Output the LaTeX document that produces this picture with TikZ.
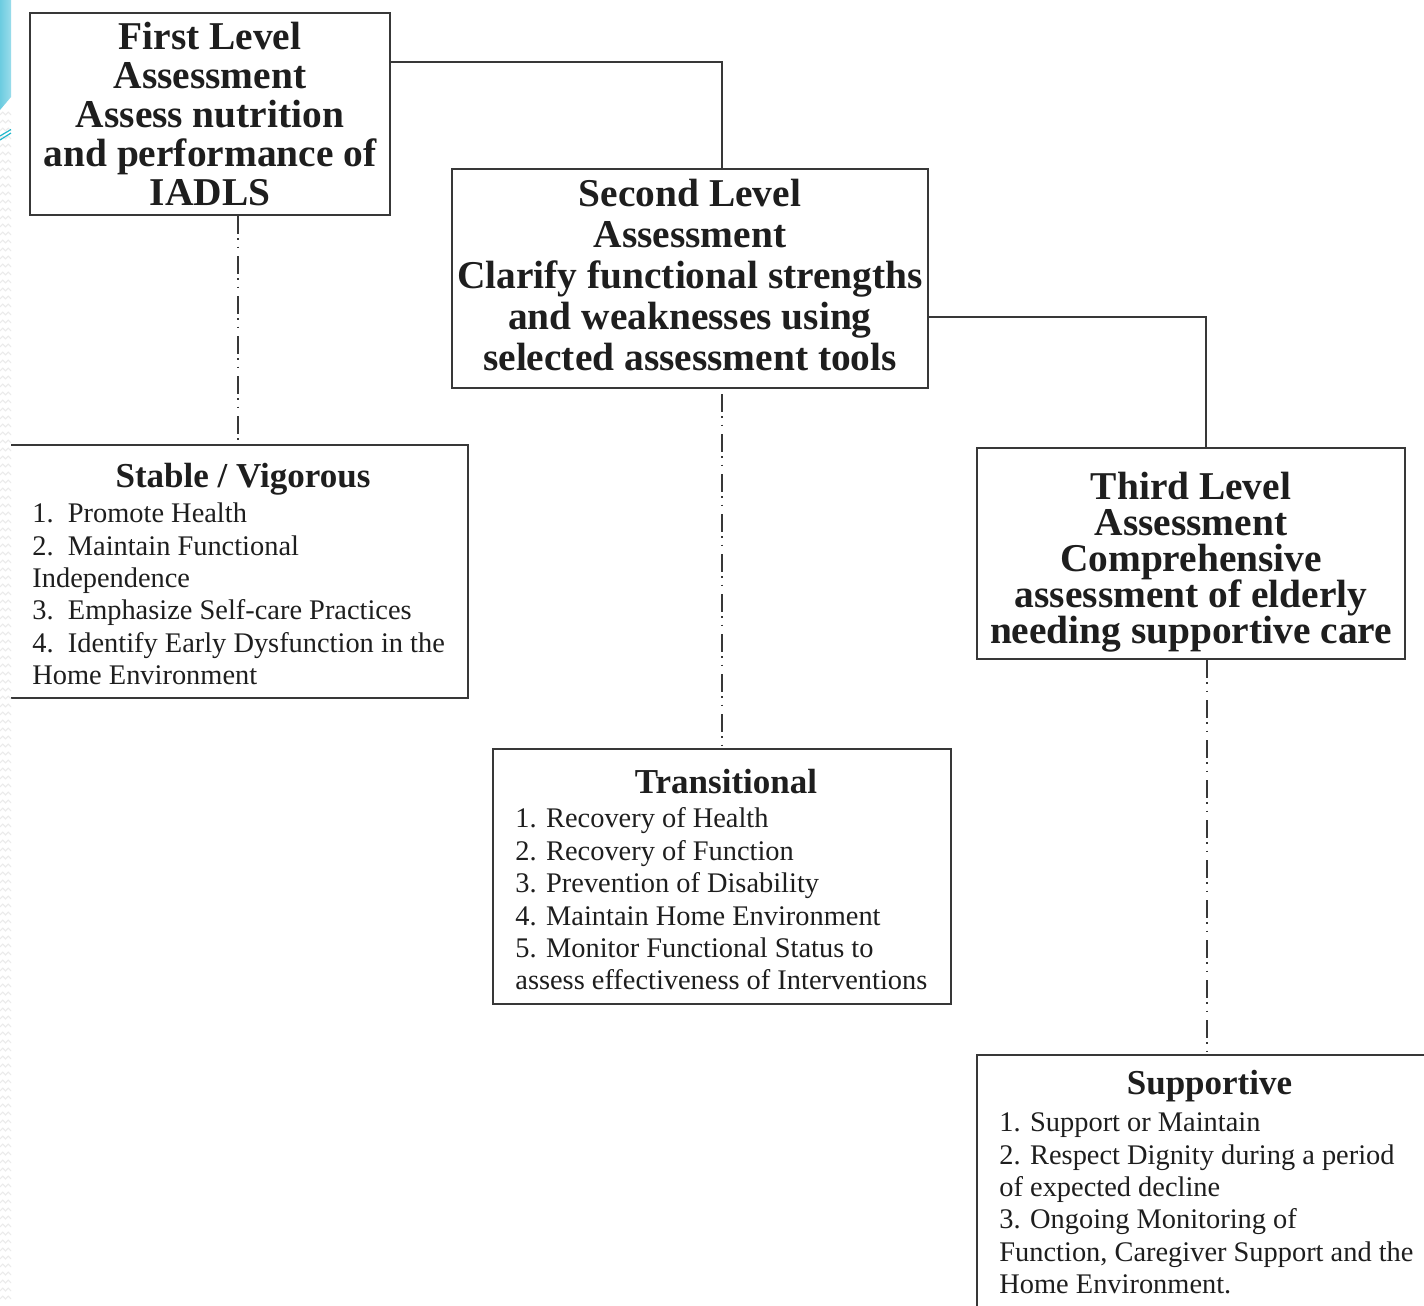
\documentclass[tikz,border=0pt]{standalone}
\usepackage{fontspec}
\setmainfont{Liberation Serif}
\usetikzlibrary{calc}
\setlength{\lineskiplimit}{-30pt}
\setlength{\lineskip}{0pt}
\definecolor{ln}{HTML}{383838}
\definecolor{txt}{HTML}{1E1E1E}
\definecolor{deco}{HTML}{6CCCE0}
\definecolor{decob}{HTML}{9ADCEB}
\definecolor{swoosh}{HTML}{22B8CC}
\definecolor{zig}{HTML}{EBEBEB}
\begin{document}
\begin{tikzpicture}[x=0.5pt,y=-0.5pt,
  box/.style={draw=ln,line width=1pt,inner sep=0pt,align=center,text=txt},
  bigfont/.style={font=\fontsize{19.7}{#1}\bfseries\selectfont},
  headtxt/.style={anchor=base,inner sep=0pt,text=txt,font=\fontsize{17.5}{20}\bfseries\selectfont},
  bodytxt/.style={anchor=north west,inner sep=0pt,align=left,text=txt,font=\fontsize{14.2}{16.2}\selectfont},
  solidlink/.style={draw=ln,line width=1pt},
  dashlink/.style={draw=ln,line width=0.8pt,dash pattern=on 9pt off 2pt on 0.8pt off 3.5pt on 0.8pt off 3.9pt}
]
\useasboundingbox (0,0) rectangle (1424,1306);
\clip (0,0) rectangle (1424,1306);
\fill[white] (0,0) rectangle (1424,1306);

% boxes
\node[box,bigfont=19.4,minimum width=180pt,minimum height=101pt] (first) at (210,114)
  {First Level\\Assessment\\Assess nutrition\\and performance of\\IADLS};
\node[box,minimum width=238pt,minimum height=109.5pt] (second) at (690,278.5) {};
\node[align=center,inner sep=0pt,text=txt,bigfont=20.5] (secondtxt) at (690,275.5)
  {Second Level\\Assessment\\Clarify functional strengths\\and weaknesses using\\selected assessment tools};
\node[box,minimum width=214pt,minimum height=105.5pt] (third) at (1191,553.5) {};
\node[align=center,inner sep=0pt,text=txt,bigfont=18] (thirdtxt) at (1191,562)
  {Third Level\\Assessment\\Comprehensive\\assessment of elderly\\needing supportive care};

\node[box,minimum width=231.5pt,minimum height=126.5pt] (stable) at (236.5,571.5) {};
\node[box,minimum width=229pt,minimum height=127.5pt] (trans) at (722,876.5) {};
\node[box,minimum width=232pt,minimum height=132.5pt] (supp) at (1209,1187.5) {};

% list texts
\node[headtxt] (stableh) at (243,487) {Stable / Vigorous};
\node[bodytxt] (stableb) at (32,502.5)
  {1.\ \ Promote Health\\2.\ \ Maintain Functional\\Independence\\3.\ \ Emphasize Self-care Practices\\4.\ \ Identify Early Dysfunction in the\\Home Environment};
\node[headtxt] (transh) at (726,793) {Transitional};
\node[bodytxt] (transb) at (515,807.5)
  {1. Recovery of Health\\2. Recovery of Function\\3. Prevention of Disability\\4. Maintain Home Environment\\5. Monitor Functional Status to\\assess effectiveness of Interventions};
\node[headtxt] (supph) at (1209.5,1094) {Supportive};
\node[bodytxt] (suppb) at (999,1112.5)
  {1. Support or Maintain\\2. Respect Dignity during a period\\of expected decline\\3. Ongoing Monitoring of\\Function, Caregiver Support and the\\Home Environment.};

% solid connectors
\coordinate (c1) at ([yshift=-25pt]first.north east);
\draw[solidlink] (c1) -| ([xshift=16pt]second.north);
\coordinate (c2) at ([yshift=-74.5pt]second.north east);
\draw[solidlink] (c2) -| ([xshift=7.5pt]third.north);

% dash-dot connectors
\coordinate (d1) at ([xshift=14pt]first.south);
\draw[dashlink] (d1) -- (d1 |- stable.north);
\coordinate (d2) at ([xshift=16pt,yshift=-2.5pt]second.south);
\draw[dashlink] (d2) -- (d2 |- trans.north);
\coordinate (d3) at ([xshift=8pt]third.south);
\draw[dashlink] (d3) -- (d3 |- supp.north);

% slide decoration on the left edge
\fill[white] (0,0) rectangle (11,1306);
\foreach \yy in {112,120,...,1300}{
  \draw[zig,line width=0.5pt] (0,\yy+3) -- (2.75,\yy) -- (5.5,\yy+3) -- (8.25,\yy) -- (11,\yy+3);
}
\shade[left color=deco,right color=decob] (0,0) -- (11,0) -- (11,97) -- (0,110) -- cycle;
\draw[swoosh,line width=0.6pt] (0,140) -- (11,133);
\draw[swoosh,line width=0.6pt] (0,136) -- (11,129.5);
\end{tikzpicture}
\end{document}
